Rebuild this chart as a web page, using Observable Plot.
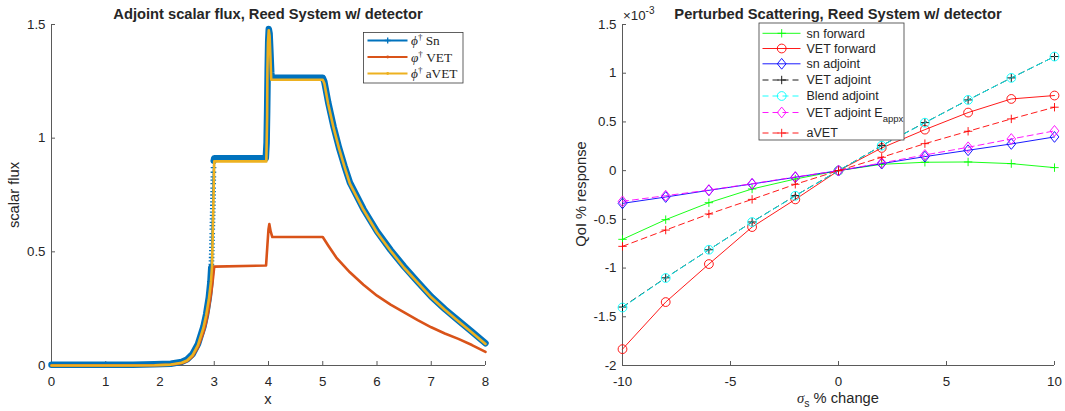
<!DOCTYPE html>
<html><head><meta charset="utf-8">
<script src="https://cdn.jsdelivr.net/npm/d3@7"></script>
<script src="https://cdn.jsdelivr.net/npm/@observablehq/plot@0.6"></script>
<style>
html,body{margin:0;padding:0;background:#fff;}
#wrap{display:flex;width:1065px;height:411px;overflow:hidden;}
svg{display:block;}
</style></head><body><div id="wrap"></div>
<script>
// ================= LEFT CHART DATA (adjoint scalar flux) =================
const xTicksL = [0, 1, 2, 3, 4, 5, 6, 7, 8];
const yTicksL = [0, 0.5, 1, 1.5];

// phi-dagger Sn : smooth part before the jump at x=3
const snAX = [0, 0.5, 1, 1.5, 1.9, 2.2, 2.4, 2.5, 2.6, 2.7, 2.8, 2.85, 2.9, 2.93, 2.945];
const snAY = [0.003, 0.003, 0.003, 0.003, 0.005, 0.008, 0.016, 0.027, 0.05, 0.095, 0.17, 0.225, 0.3, 0.37, 0.43];
// phi-dagger Sn : sparse points through the jump (visible "+" markers)
const snJX = [2.947, 2.949, 2.951, 2.953, 2.955, 2.957, 2.958, 2.96, 2.961, 2.963, 2.964, 2.966, 2.967, 2.968, 2.97, 2.971, 2.972, 2.974, 2.975, 2.976, 2.977, 2.979, 2.98, 2.981, 2.982, 2.984, 2.985, 2.987];
const snJY = [0.445, 0.46, 0.475, 0.49, 0.505, 0.52, 0.535, 0.55, 0.565, 0.58, 0.6, 0.615, 0.63, 0.645, 0.66, 0.675, 0.69, 0.705, 0.72, 0.735, 0.75, 0.765, 0.78, 0.8, 0.815, 0.83, 0.85, 0.87];
// phi-dagger Sn : after the jump
const snBX = [2.99, 3.0, 3.95, 3.965, 3.975, 3.985, 3.995, 4.005, 4.02, 4.035, 4.05, 4.06, 5.0, 5.03, 5.1, 5.2, 5.3, 5.4, 5.5, 5.75, 6, 6.25, 6.5, 6.75, 7, 7.25, 7.5, 7.75, 8];
const snBY = [0.9, 0.912, 0.912, 0.98, 1.12, 1.3, 1.43, 1.48, 1.46, 1.38, 1.29, 1.266, 1.266, 1.248, 1.158, 1.05, 0.958, 0.878, 0.805, 0.688, 0.59, 0.508, 0.435, 0.368, 0.303, 0.248, 0.198, 0.148, 0.098];

// varphi-dagger VET
const vetX = [0, 1, 1.9, 2.2, 2.4, 2.5, 2.6, 2.7, 2.8, 2.85, 2.9, 2.95, 2.98, 3.0, 3.955, 3.98, 4.0, 4.015, 4.04, 4.07, 5.0, 5.1, 5.25, 5.5, 5.75, 6, 6.25, 6.5, 6.75, 7, 7.25, 7.5, 7.75, 8];
const vetY = [0, 0, 0.001, 0.003, 0.01, 0.02, 0.04, 0.08, 0.145, 0.19, 0.25, 0.33, 0.39, 0.435, 0.44, 0.53, 0.6, 0.622, 0.59, 0.565, 0.565, 0.528, 0.475, 0.41, 0.355, 0.307, 0.268, 0.234, 0.2, 0.168, 0.141, 0.117, 0.09, 0.06];

// phi-dagger aVET
const avetX = [0, 0.5, 1, 1.5, 1.9, 2.2, 2.4, 2.5, 2.6, 2.7, 2.8, 2.85, 2.9, 2.94, 2.96, 2.98, 3.0, 3.96, 3.975, 3.98, 3.99, 4.005, 4.02, 4.035, 4.05, 5.0, 5.03, 5.1, 5.2, 5.3, 5.4, 5.5, 5.75, 6, 6.25, 6.5, 6.75, 7, 7.25, 7.5, 7.75, 8];
const avetY = [0, 0, 0, 0, 0.001, 0.004, 0.012, 0.022, 0.045, 0.09, 0.165, 0.22, 0.29, 0.37, 0.44, 0.66, 0.898, 0.898, 1.1, 1.3, 1.42, 1.475, 1.45, 1.36, 1.257, 1.257, 1.24, 1.15, 1.045, 0.955, 0.875, 0.8, 0.685, 0.585, 0.505, 0.43, 0.365, 0.3, 0.245, 0.195, 0.145, 0.095];

// ================= RIGHT CHART DATA (values in units of 1e-3) =================
const sigma = [-10, -8, -6, -4, -2, 0, 2, 4, 6, 8, 10];
const xTicksR = [-10, -5, 0, 5, 10];
const yTicksR = [-2, -1.5, -1, -0.5, 0, 0.5, 1, 1.5];
const snForward   = [-0.705, -0.503, -0.329, -0.188, -0.086, 0, 0.065, 0.086, 0.089, 0.072, 0.031];
const vetForward  = [-1.832, -1.349, -0.959, -0.579, -0.295, 0, 0.233, 0.421, 0.596, 0.736, 0.771];
const snAdjoint   = [-0.336, -0.271, -0.202, -0.137, -0.068, 0, 0.072, 0.144, 0.209, 0.274, 0.346];
const vetAdjoint  = [-1.400, -1.100, -0.812, -0.527, -0.257, 0, 0.257, 0.493, 0.726, 0.952, 1.171];
const blendAdjoint= [-1.405, -1.102, -0.812, -0.528, -0.258, 0, 0.256, 0.492, 0.726, 0.952, 1.171];
const vetAdjointE = [-0.315, -0.257, -0.199, -0.134, -0.065, 0, 0.079, 0.161, 0.240, 0.325, 0.408];
const aVET        = [-0.777, -0.610, -0.445, -0.295, -0.140, 0, 0.137, 0.277, 0.404, 0.531, 0.651];
const seriesNames = ["sn forward", "VET forward", "sn adjoint", "VET adjoint", "Blend adjoint", "VET adjoint E", "aVET"];

// ================= STYLE =================
const FONT = "'Liberation Sans', Arial, Helvetica, sans-serif";
const SERIF = "'Liberation Serif', 'DejaVu Serif', serif";
const AX = "#262626";
const AXLINE = "#5a5a5a";
const C_SN = "#0072BD", C_VET = "#D95319", C_AVET = "#EDB120";

const plusSym = {draw(ctx, size) { const r = Math.sqrt(size / Math.PI); ctx.moveTo(-r, 0); ctx.lineTo(r, 0); ctx.moveTo(0, -r); ctx.lineTo(0, r); }};
const diamondSym = {draw(ctx, size) { const r = Math.sqrt(size / Math.PI); const w = r * 0.95, h = r * 1.17; ctx.moveTo(0, -h); ctx.lineTo(w, 0); ctx.lineTo(0, h); ctx.lineTo(-w, 0); ctx.closePath(); }};
const circleSym = {draw(ctx, size) { const r = Math.sqrt(size / Math.PI); ctx.moveTo(r, 0); ctx.arc(0, 0, r, 0, 2 * Math.PI); }};

const zip = (xs, ys) => xs.map((x, i) => ({x, y: ys[i]}));
const fmt = d => String(d);

// ---------------- LEFT PLOT ----------------
const snA = zip(snAX, snAY), snJ = zip(snJX, snJY), snB = zip(snBX, snBY);
const snAll = [...snA, ...snJ, ...snB];
const left = Plot.plot({
  width: 530, height: 411,
  marginLeft: 51, marginRight: 45, marginTop: 24, marginBottom: 46,
  style: {fontFamily: FONT, fontSize: "13.3px", color: AX, background: "white", overflow: "visible"},
  x: {domain: [0, 8]},
  y: {domain: [0, 1.5]},
  marks: [
    Plot.axisX({ticks: xTicksL, tickSize: -4, tickPadding: 15, tickFormat: fmt, label: null, stroke: AXLINE}),
    Plot.axisY({ticks: yTicksL, tickSize: -4, tickPadding: 10, tickFormat: fmt, label: null, stroke: AXLINE}),
    Plot.ruleX([0], {stroke: AXLINE}),
    Plot.ruleY([0], {stroke: AXLINE}),
    Plot.line(snAll, {x: "x", y: "y", stroke: C_SN, strokeWidth: 1.3}),
    Plot.line(snA, {x: "x", y: "y", stroke: C_SN, strokeWidth: 6.5}),
    Plot.line(snB, {x: "x", y: "y", stroke: C_SN, strokeWidth: 6.5}),
    Plot.dot(snJ, {x: "x", y: "y", symbol: plusSym, r: 2.8, stroke: C_SN, strokeWidth: 1.3, fill: "none"}),
    Plot.line(zip(vetX, vetY), {x: "x", y: "y", stroke: C_VET, strokeWidth: 2.6}),
    Plot.line(zip(avetX, avetY), {x: "x", y: "y", stroke: C_AVET, strokeWidth: 2.6})
  ]
});

// ---------------- RIGHT PLOT ----------------
const rightSeries = [
  {name: seriesNames[0], y: snForward,    color: "#00ff00", dash: null,  sym: plusSym,    r: 4.2},
  {name: seriesNames[1], y: vetForward,   color: "#ff0000", dash: null,  sym: circleSym,  r: 4.4},
  {name: seriesNames[2], y: snAdjoint,    color: "#0000ff", dash: null,  sym: diamondSym, r: 4.6},
  {name: seriesNames[3], y: vetAdjoint,   color: "#000000", dash: "6,4", sym: plusSym,    r: 4.2},
  {name: seriesNames[4], y: blendAdjoint, color: "#00ffff", dash: "6,4", sym: circleSym,  r: 4.4},
  {name: seriesNames[5], y: vetAdjointE,  color: "#ff00ff", dash: "6,4", sym: diamondSym, r: 4.6},
  {name: seriesNames[6], y: aVET,         color: "#ff0000", dash: "6,4", sym: plusSym,    r: 4.2}
];
const rightMarks = [
  Plot.axisX({ticks: xTicksR, tickSize: -4, tickPadding: 15, tickFormat: fmt, label: null, stroke: AXLINE}),
  Plot.axisY({ticks: yTicksR, tickSize: -4, tickPadding: 10, tickFormat: fmt, label: null, stroke: AXLINE}),
  Plot.ruleX([-10], {stroke: AXLINE}),
  Plot.ruleY([-2], {stroke: AXLINE})
];
for (const s of rightSeries) {
  const data = zip(sigma, s.y);
  rightMarks.push(Plot.line(data, {x: "x", y: "y", stroke: s.color, strokeWidth: 0.9, strokeDasharray: s.dash || undefined}));
  rightMarks.push(Plot.dot(data, {x: "x", y: "y", symbol: s.sym, r: s.r, stroke: s.color, strokeWidth: 0.9, fill: "none"}));
}
const right = Plot.plot({
  width: 535, height: 411,
  marginLeft: 92, marginRight: 11, marginTop: 24, marginBottom: 46,
  style: {fontFamily: FONT, fontSize: "13.3px", color: AX, background: "white", overflow: "visible"},
  x: {domain: [-10, 10]},
  y: {domain: [-2, 1.5]},
  marks: rightMarks
});

const wrap = document.getElementById("wrap");
wrap.appendChild(left);
wrap.appendChild(right);

// ---------------- annotations (titles, labels, legends) ----------------
function txt(sel, x, y, str, o = {}) {
  const t = sel.append("text").attr("x", x).attr("y", y)
    .attr("font-family", o.family || FONT).attr("font-size", o.size || 14.7)
    .attr("fill", o.fill || AX).attr("text-anchor", o.anchor || "middle");
  if (o.weight) t.attr("font-weight", o.weight);
  if (o.rotate) t.attr("transform", `rotate(${o.rotate},${x},${y})`);
  t.text(str);
  return t;
}

const L = d3.select(left);
txt(L, 268, 18.5, "Adjoint scalar flux, Reed System w/ detector", {weight: "bold"});
txt(L, 268, 404, "x");
txt(L, 18.5, 195, "scalar flux", {rotate: -90});

// left legend
const lg = L.append("g").attr("text-anchor", "start");
lg.append("rect").attr("x", 363.5).attr("y", 32.5).attr("width", 99.5).attr("height", 50.5)
  .attr("fill", "white").attr("stroke", "#3a3a3a").attr("stroke-width", 0.8);
const leftLeg = [
  {c: C_SN, sym: "phi", label: " Sn", mark: "plus"},
  {c: C_VET, sym: "varphi", label: " VET", mark: "dot"},
  {c: C_AVET, sym: "phi", label: " aVET", mark: "dot"}
];
leftLeg.forEach((e, i) => {
  const y = 40.5 + i * 16.5;
  lg.append("line").attr("x1", 367.5).attr("x2", 407.5).attr("y1", y).attr("y2", y).attr("stroke", e.c).attr("stroke-width", 2);
  if (e.mark === "plus") {
    lg.append("path").attr("d", `M384.7,${y}H390.7M387.7,${y - 3}V${y + 3}`).attr("stroke", e.c).attr("stroke-width", 1.3);
  } else {
    lg.append("circle").attr("cx", 387.7).attr("cy", y).attr("r", 1.4).attr("fill", e.c);
  }
  const t = lg.append("text").attr("x", 411).attr("y", y + 4.5).attr("text-anchor", "start").attr("font-family", SERIF).attr("font-size", 13.3).attr("fill", AX);
  t.append("tspan").attr("font-style", "italic").text(e.sym === "phi" ? "\u03D5" : "\u03C6");
  t.append("tspan").attr("font-size", 9).attr("dy", -5).text("\u2020");
  t.append("tspan").attr("dy", 5).text(e.label);
});

const R = d3.select(right);
txt(R, 308, 18.5, "Perturbed Scattering, Reed System w/ detector", {weight: "bold"});
// x label with subscript
{
  const t = R.append("text").attr("x", 308).attr("y", 403).attr("font-family", FONT).attr("font-size", 14.7).attr("fill", AX).attr("text-anchor", "middle");
  t.append("tspan").attr("font-family", SERIF).attr("font-style", "italic").text("\u03C3");
  t.append("tspan").attr("font-size", 10.5).attr("dy", 4).text("s");
  t.append("tspan").attr("dy", -4).text(" % change");
}
txt(R, 56, 194, "QoI % response", {rotate: -90});
// exponent label
{
  const t = R.append("text").attr("x", 93).attr("y", 20).attr("font-family", FONT).attr("font-size", 13.3).attr("fill", AX).attr("text-anchor", "start");
  t.append("tspan").text("\u00D710");
  t.append("tspan").attr("font-size", 10).attr("dy", -6).text("-3");
}
// right legend
const rg = R.append("g").attr("text-anchor", "start");
rg.append("rect").attr("x", 229).attr("y", 23).attr("width", 145).attr("height", 117)
  .attr("fill", "white").attr("stroke", "#3a3a3a").attr("stroke-width", 0.8);
const rowY = [33.3, 48.5, 63.8, 80, 96, 112.5, 133];
rightSeries.forEach((s, i) => {
  const y = rowY[i];
  const ln = rg.append("line").attr("x1", 232.5).attr("x2", 270.5).attr("y1", y).attr("y2", y).attr("stroke", s.color).attr("stroke-width", 0.9);
  if (s.dash) ln.attr("stroke-dasharray", s.dash);
  const p = d3.path();
  s.sym.draw(p, s.r * s.r * Math.PI);
  rg.append("path").attr("d", p.toString()).attr("transform", `translate(251.7,${y})`).attr("fill", "none").attr("stroke", s.color).attr("stroke-width", 0.9);
  const t = rg.append("text").attr("x", 276.5).attr("y", y + 4.3).attr("text-anchor", "start").attr("font-family", FONT).attr("font-size", 12.5).attr("fill", AX);
  t.append("tspan").text(s.name);
  if (i === 5) t.append("tspan").attr("font-size", 9.5).attr("dy", 5).text("appx");
});
</script>
</body></html>
